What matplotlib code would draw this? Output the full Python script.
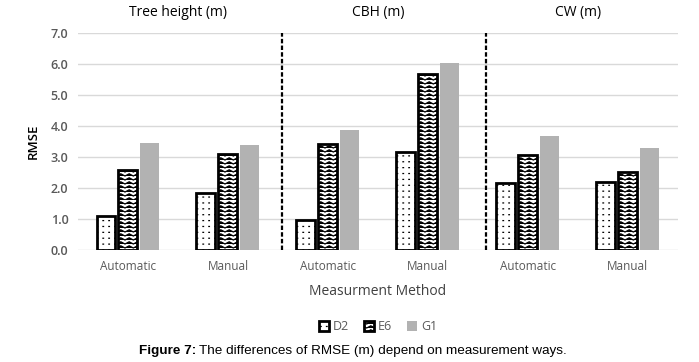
import matplotlib
matplotlib.use("Agg")
import matplotlib.pyplot as plt
import numpy as np
from matplotlib import hatch as mhatch


# zigzag hatch for the E6 bars ('z')
class ZigzagHatch(mhatch.HatchPatternBase):
    def __init__(self, hatch, density):
        self.num_rows = hatch.count("z") * 25
        self.periods = 12
        self.pts = 2 * self.periods + 1
        self.num_vertices = self.num_rows * self.pts

    def set_vertices_and_codes(self, vertices, codes):
        xs = np.linspace(0, 1, self.pts)
        amp = 0.55 / max(self.num_rows, 1)
        k = 0
        for r in range(self.num_rows):
            y0 = r / self.num_rows
            for i, x in enumerate(xs):
                vertices[k] = (x, y0 + (amp if i % 2 else 0))
                codes[k] = mhatch.Path.MOVETO if i == 0 else mhatch.Path.LINETO
                k += 1


# aligned tiny dots for the D2 bars ('d')
class DotHatch(mhatch.HatchPatternBase):
    def __init__(self, hatch, density):
        self.n = hatch.count("d") * 17
        self.num_vertices = self.n * self.n * 2

    def set_vertices_and_codes(self, vertices, codes):
        k = 0
        for r in range(self.n):
            for c in range(self.n):
                x0 = (c + 0.5) / self.n
                y0 = (r + 0.5) / self.n
                vertices[k] = (x0, y0)
                vertices[k + 1] = (x0 + 0.006, y0)
                codes[k] = mhatch.Path.MOVETO
                codes[k + 1] = mhatch.Path.LINETO
                k += 2


mhatch._hatch_types.append(ZigzagHatch)
mhatch._hatch_types.append(DotHatch)

plt.rcParams["hatch.linewidth"] = 0.9

categories = ["Automatic", "Manual", "Automatic", "Manual", "Automatic", "Manual"]
groups = ["Tree height (m)", "CBH (m)", "CW (m)"]
d2 = [1.10, 1.84, 0.97, 3.16, 2.16, 2.19]
e6 = [2.58, 3.10, 3.42, 5.68, 3.06, 2.51]
g1 = [3.45, 3.39, 3.87, 6.03, 3.68, 3.29]

fig = plt.figure(figsize=(6.99, 3.62), dpi=100)
ax = fig.add_axes([0.1116, 0.3094, 0.858, 0.5994])

x = np.arange(len(categories))
w = 0.19
ax.bar(x - 0.22, d2, w, facecolor="white", edgecolor="black", lw=2.0,
       hatch="d", label="D2", zorder=3)
ax.bar(x, e6, w, facecolor="white", edgecolor="black", lw=2.0,
       hatch="z", label="E6", zorder=3)
ax.bar(x + 0.22, g1, w, color="#b2b2b2", label="G1", zorder=3)

ax.set_xlim(-0.5, 5.5)
ax.set_ylim(0, 7)
ax.set_yticks(np.arange(0, 7.5, 1.0))
ax.set_yticklabels([f"{v:.1f}" for v in np.arange(0, 7.5, 1.0)],
                   fontfamily="Open Sans", fontsize=9, color="#595959", fontweight="semibold")
ax.set_xticks(x)
ax.set_xticklabels(categories, fontfamily="Open Sans", fontsize=8.5, color="#595959")
ax.tick_params(length=0, pad=7)
ax.grid(axis="y", color="#d9d9d9", lw=1, zorder=0)
for s in ax.spines.values():
    s.set_visible(False)

# group separators
for xs in [1.54, 3.58]:
    ax.axvline(xs, color="black", ls=(0, (2, 1)), lw=1.6, zorder=4)

for i, g in enumerate(groups):
    ax.text(2 * i + 0.5, 7.65, g, ha="center", va="center",
            fontfamily="Open Sans", fontsize=10)

ax.set_ylabel("RMSE", fontfamily="Open Sans", fontsize=9.5, fontweight="semibold", labelpad=8)
ax.set_xlabel("Measurment Method", fontfamily="Open Sans", fontsize=10,
              color="#404040", labelpad=8)

fig.legend(loc="center", bbox_to_anchor=(378 / 699, 1 - 327 / 362), ncol=3,
           frameon=False, prop={"family": "Open Sans", "size": 9},
           handlelength=0.8, handleheight=0.8, handletextpad=0.3, columnspacing=1.2,
           labelcolor="#595959")

cap_y = 1 - 351 / 362
fig.text(196 / 699, cap_y, "Figure 7:", ha="right", va="center",
         fontfamily="Liberation Sans", fontweight="bold", fontsize=9.7)
fig.text(199 / 699, cap_y, "The differences of RMSE (m) depend on measurement ways.",
         ha="left", va="center", fontfamily="Liberation Sans", fontsize=9.7)

fig.savefig("out.png", dpi=100)
